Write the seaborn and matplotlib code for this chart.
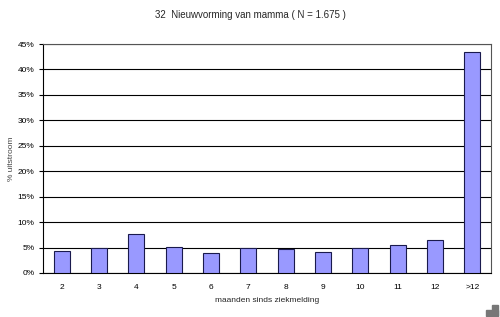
import matplotlib
matplotlib.use("Agg")
import matplotlib.pyplot as plt
import seaborn as sns
import pandas as pd
import numpy as np
from matplotlib.ticker import FixedLocator, PercentFormatter

categories = ["2", "3", "4", "5", "6", "7", "8", "9", "10", "11", "12", ">12"]
values = [4.3, 5.0, 7.7, 5.1, 4.0, 4.9, 4.7, 4.2, 5.0, 5.4, 6.5, 43.4]
title = "32  Nieuwvorming van mamma ( N = 1.675 )"
xlabel = "maanden sinds ziekmelding"
ylabel = "% uitstroom"

sns.set_theme(style="white")
plt.rcParams['font.family'] = ['Liberation Sans', 'DejaVu Sans']

df = pd.DataFrame({"cat": categories, "val": values})

fig = plt.figure(figsize=(5.0, 3.17), dpi=100)
ax = fig.add_axes([0.086, 0.139, 0.896, 0.722])

sns.barplot(data=df, x="cat", y="val", ax=ax, color="#9999FF", saturation=1,
            width=0.42, edgecolor="#1a1a4d", linewidth=0.8, zorder=3)

ax.set_ylim(0, 45)
ax.set_xlim(-0.5, len(categories) - 0.5)
ax.set_yticks(np.arange(0, 46, 5))
ax.yaxis.set_major_formatter(PercentFormatter(decimals=0))
ax.yaxis.grid(True, color="black", linewidth=0.8, zorder=0)
ax.set_axisbelow(True)

ax.tick_params(axis="x", which="major", length=0, labelsize=6, pad=8, colors="black")
ax.xaxis.set_minor_locator(FixedLocator(np.arange(-0.5, len(categories), 1)))
ax.tick_params(axis="x", which="minor", length=3, width=0.8, direction="out", color="black")
ax.tick_params(axis="y", length=3, width=0.8, direction="out", labelsize=6, pad=3, colors="black", left=True)

for s in ax.spines.values():
    s.set_visible(True)
    s.set_color("#555555")
    s.set_linewidth(0.8)
ax.spines["left"].set_color("black")
ax.spines["bottom"].set_color("black")

ax.set_xlabel(xlabel, fontsize=6, labelpad=4)
ax.set_ylabel(ylabel, fontsize=6, color="#444444")
ax.yaxis.set_label_coords(-0.062, 0.5)
fig.text(0.5, 0.952, title, ha="center", va="center", fontsize=7)

# corner mark (L shape)
W, H = 500.0, 317.0
fig.patches.append(matplotlib.patches.Rectangle((492 / W, 1 - 316 / H), 6 / W, 11 / H,
                   transform=fig.transFigure, color="#777777"))
fig.patches.append(matplotlib.patches.Rectangle((486 / W, 1 - 316 / H), 12 / W, 6 / H,
                   transform=fig.transFigure, color="#777777"))

fig.savefig("out.png", dpi=100, facecolor="white")
